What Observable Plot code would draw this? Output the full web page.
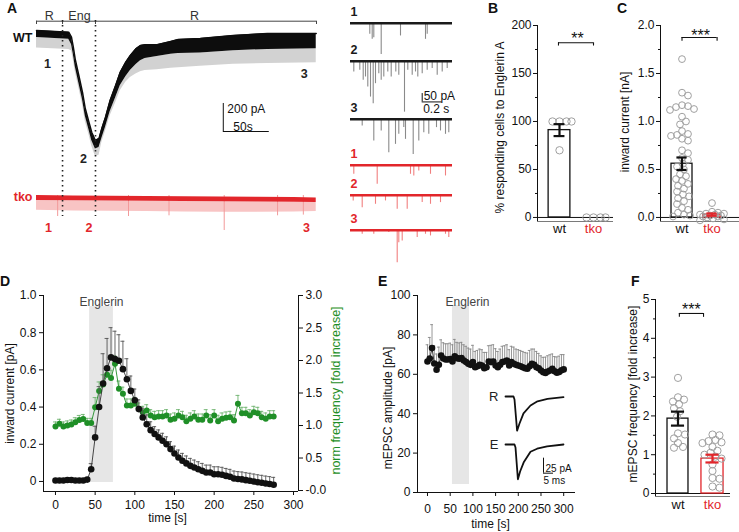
<!DOCTYPE html>
<html>
<head>
<meta charset="utf-8">
<script src="https://cdn.jsdelivr.net/npm/d3@7"></script>
<script src="https://cdn.jsdelivr.net/npm/@observablehq/plot@0.6"></script>
<style>
html,body{margin:0;padding:0;background:#fff;}
#fig{position:relative;width:739px;height:532px;overflow:hidden;background:#fff;font-family:"Liberation Sans",Arial,sans-serif;}
.cell{position:absolute;}
.cell svg{display:block;overflow:visible;max-width:none;}
.letter{position:absolute;font-weight:bold;font-size:14px;line-height:14px;color:#111;}
</style>
</head>
<body>
<div id="fig"></div>
<script>
// ======================= DATA =======================
// Panel A — whole-cell traces (time in s, current in pA relative to baseline)
const periodNames = ["R", "Eng", "R"];
const periodEdges = [0, 28.3, 64.1, 304.3];
const periodLabelT = [14, 46.7, 171.7];

const wtTime  = [0,35,38,40,42,46,50,53,57,60,64,68,71,75,80,86,91,97,102,108,113,118,131,146,154,178,214,251,304];
const wtTop   = [0,-12,-48,-119,-202,-321,-441,-557,-655,-726,-785,-771,-700,-619,-500,-393,-298,-226,-178,-131,-107,-102,-102,-78,-64,-57,-36,-21,-21];
const wtLow   = [-50,-62,-100,-170,-255,-375,-495,-610,-708,-785,-845,-835,-770,-690,-580,-480,-395,-330,-285,-245,-215,-200,-185,-170,-165,-160,-145,-135,-130];
const wtSpike = [-125,-135,-145,-210,-290,-410,-530,-650,-745,-825,-900,-890,-800,-720,-610,-515,-430,-370,-335,-310,-295,-285,-280,-270,-265,-255,-240,-235,-230];
const wtMarkT = [12, 51, 291];
const wtMarkI = [-236, -914, -307];

const tkoTime  = [0,40,80,120,160,200,240,280,304];
const tkoTop   = [0,-3,-5,-7,-9,-11,-13,-15,-17];
const tkoLow   = [-35,-37,-39,-41,-43,-45,-47,-49,-50];
const tkoSpike = [-105,-110,-112,-115,-118,-120,-120,-118,-115];
const tkoEventT = [23, 100, 144, 204, 262, 290];
const tkoEventA = [-150, -150, -145, -250, -145, -140];
const tkoMarkT = [13, 57, 293.5];
const tkoMarkI = [-233, -233, -233];

const scaleA = {t0: 203, t1: 253, i0: -721, i1: -521}; // 50 s, 200 pA

// Panel A right — example sweeps: [time s, event amplitude pA]
const sweepNames = ["1","2","3","1","2","3"];
const sweepGeno  = ["wt","wt","wt","tko","tko","tko"];
const sweepEvents = [
  [[0.193,66],[0.217,96],[0.233,86],[0.307,186],[0.5,76],[0.75,96],[0.767,66]],
  [[0.033,64],[0.093,54],[0.127,114],[0.15,94],[0.173,154],[0.2,214],[0.227,254],[0.25,134],[0.283,74],[0.307,114],[0.333,94],[0.373,64],[0.407,94],[0.453,64],[0.483,84],[0.54,304],[0.573,54],[0.617,84],[0.65,64],[0.673,94],[0.717,74],[0.767,54],[0.817,44],[0.867,84],[0.917,64],[0.967,44]],
  [[0.117,40],[0.233,130],[0.307,70],[0.383,200],[0.45,150],[0.483,90],[0.533,50],[0.55,120],[0.627,210],[0.683,130],[0.733,80],[0.783,90],[0.86,50],[0.9,70],[0.95,90],[0.983,80]],
  [[0.033,54],[0.267,114],[0.6,54],[0.633,64],[0.683,34],[0.8,54],[0.95,64]],
  [[0.027,34],[0.117,74],[0.25,54],[0.35,34],[0.467,84],[0.567,84],[0.717,44],[0.8,54],[0.9,44]],
  [[0.117,24],[0.233,24],[0.383,14],[0.467,194],[0.483,74],[0.517,64],[0.667,44],[0.75,24],[0.8,34],[0.95,24],[0.983,44]]
];
const sweepScale = {t0: 0.717, t1: 0.917, i0: -243, i1: -193}; // 0.2 s, 50 pA

// Panel B
const groups = ["wt", "tko"];
const bMean = [91, 0];
const bSem  = [6.2, 0];
const bWt   = [100, 100, 100, 100, 70];
const bTko  = [0, 0, 0, 0];

// Panel C
const cMean = [0.56, 0.03];
const cSem  = [0.065, 0.012];
const cWt   = [1.65,1.30,1.27,1.17,1.16,1.15,1.13,1.12,1.05,1.00,0.97,0.90,0.87,0.86,0.85,0.82,0.80,0.70,0.67,0.62,0.60,0.56,0.53,0.50,0.45,0.43,0.40,0.38,0.35,0.33,0.30,0.27,0.24,0.22,0.20,0.17,0.14,0.10,0.08,0.05,0.03,0.02,0.01];
const cTko  = [0.15,0.06,0.05,0.04,0.04,0.03,0.03,0.02,0.02,0.01,0.01,0.0,-0.01,-0.02,-0.03];

// Panel D
const englerinD = [43, 73];
const dTime = [0,5,10,15,20,25,30,35,40,45,50,55,60,65,70,75,80,85,90,95,100,105,110,115,120,125,130,135,140,145,150,155,160,165,170,175,180,185,190,195,200,205,210,215,220,225,230,235,240,245,250,255,260,265,270,275];
const dCurrent = [0.005,0.005,0.005,0.008,0.008,0.005,0.005,0.005,0.01,0.066,0.237,0.40,0.527,0.609,0.667,0.658,0.649,0.604,0.55,0.487,0.437,0.389,0.344,0.308,0.276,0.255,0.237,0.219,0.2,0.174,0.15,0.129,0.111,0.097,0.084,0.075,0.066,0.057,0.048,0.048,0.039,0.039,0.036,0.03,0.025,0.016,0.013,0.011,0.007,0.004,0.0,-0.004,-0.007,-0.011,-0.014,-0.018];
const dCurrentErr = [0.01,0.01,0.01,0.01,0.01,0.01,0.01,0.01,0.01,0.03,0.06,0.11,0.16,0.16,0.16,0.15,0.14,0.15,0.11,0.08,0.06,0.05,0.05,0.05,0.045,0.04,0.04,0.04,0.04,0.04,0.04,0.04,0.04,0.04,0.04,0.04,0.04,0.04,0.04,0.04,0.04,0.04,0.04,0.04,0.04,0.04,0.04,0.04,0.04,0.04,0.04,0.04,0.04,0.04,0.04,0.04];
const dFreq = [0.985,1.026,0.985,1.0,1.015,1.05,1.085,1.1,1.04,1.04,1.28,1.53,1.63,1.78,1.73,1.95,1.564,1.49,1.308,1.308,1.333,1.256,1.205,1.23,1.154,1.128,1.138,1.138,1.154,1.087,1.103,1.154,1.128,1.067,1.103,1.138,1.087,1.087,1.154,1.077,1.154,1.067,1.103,1.118,1.128,1.077,1.333,1.19,1.19,1.154,1.205,1.19,1.128,1.103,1.138,1.138];
const dFreqErr = [0.07,0.07,0.07,0.07,0.07,0.07,0.07,0.07,0.07,0.07,0.15,0.14,0.15,0.12,0.12,0.12,0.12,0.1,0.1,0.1,0.1,0.09,0.09,0.09,0.09,0.09,0.09,0.09,0.09,0.09,0.09,0.09,0.09,0.09,0.09,0.09,0.09,0.09,0.09,0.09,0.09,0.09,0.09,0.09,0.09,0.09,0.13,0.09,0.09,0.09,0.09,0.09,0.09,0.09,0.09,0.09];

// Panel E
const englerinE = [55, 92.6];
const eTime = [0,5,10,15,20,25,30,35,40,45,50,55,60,65,70,75,80,85,90,95,100,105,110,115,120,125,130,135,140,145,150,155,160,165,170,175,180,185,190,195,200,205,210,215,220,225,230,235,240,245,250,255,260,265,270,275,280,285,290,295,300];
const eAmp = [66.5,68,73.3,65.5,62.3,64.8,69.5,68,67.5,67.5,67.8,66.5,69.2,68.2,67.9,68.2,67,66.2,65.3,64.8,66.2,63.6,64.1,64.8,64.5,63.1,63.6,66.5,66.2,66.5,64.5,63.6,64.8,66.2,66.5,67,64.5,66.2,65.3,64.8,64.5,64.1,63.6,63.1,62.8,64.1,65.3,64.8,63.6,63.1,61.9,61.1,60.7,61.4,61.9,62.8,61.5,60.8,61.2,62,62.5];
const eAmpErr = [8.5,10.7,11.9,9,8,9,8,8,8,8,8,8.5,8.5,8,8,8,8,8,8,8,8.5,8,8,8,8,8,7.5,8,8.5,8.5,8.5,8,8,8,8,8,8,8,8.5,8,8,8,8,8,8,8,7.5,8,8,7.5,7.5,7.5,8,8,8,7.5,7.5,8,8,8,7.5];
// Average mEPSC waveforms (ms, pA)
const rTraceT = [0,4,4.5,5.8,7,9,12.5,16,21,29];
const rTraceI = [0,0,-5,-57,-45,-28,-15,-8,-4,-1];
const eTraceT = [0,4.5,5,6.2,7.3,9.2,12.5,15.8,20.8,29];
const eTraceI = [0,0,-5,-58,-45,-29,-12,-7,-3,0];
const insetScale = {t0: 19, t1: 24, i0: -47.8, i1: -22.8}; // 5 ms, 25 pA

// Panel F
const fMean = [1.93, 0.9];
const fSem  = [0.18, 0.1];
const fWt   = [2.98,2.48,2.42,2.37,2.30,2.20,2.12,1.98,1.55,1.52,1.42,1.30,1.20,1.18];
const fTko  = [1.52,1.50,1.38,1.35,1.32,1.30,1.20,1.10,1.05,1.00,0.95,0.90,0.75,0.58,0.40,0.38,0.18,0.15];

// ======================= RENDER =======================
const FONT = '"Liberation Sans", Arial, sans-serif';
const BLACK = "#111", RED = "#e2262b", GREEN = "#1f8f27", GREEN_L = "#6fb36f", PT = "#a0a0a0";
const fig = document.getElementById("fig");
function put(el, left, top) {
  const d = document.createElement("div");
  d.className = "cell";
  d.style.left = left + "px";
  d.style.top = top + "px";
  d.appendChild(el);
  fig.appendChild(d);
}
function P(o) {
  return Plot.plot({...o, style: {fontFamily: FONT, fontSize: "12px", background: "transparent", overflow: "visible", color: BLACK}});
}
function letter(t, x, baseline) {
  const d = document.createElement("div");
  d.className = "letter";
  d.textContent = t;
  d.style.left = x + "px";
  d.style.top = (baseline - 12) + "px";
  fig.appendChild(d);
}
// deterministic beeswarm offsets (px)
function dodge(values, pxPerUnit, minDist, maxPx) {
  const order = values.map((v, i) => i).sort((a, b) => values[b] - values[a]);
  const placed = [], out = new Array(values.length);
  for (const i of order) {
    const y = values[i] * pxPerUnit;
    let best = 0, bestOv = Infinity;
    for (let k = 0; k <= 2 * maxPx; k++) {
      const off = (k % 2 ? 1 : -1) * Math.ceil(k / 2);
      let ov = 0;
      for (const p of placed) {
        const dd = Math.hypot(p[0] - off, p[1] - y);
        if (dd < minDist) ov = Math.max(ov, minDist - dd);
      }
      if (ov === 0) { best = off; bestOv = 0; break; }
      if (ov < bestOv) { bestOv = ov; best = off; }
    }
    placed.push([best, y]);
    out[i] = best;
  }
  return out;
}

// ---------- Panel A: bracket ----------
put(P({
  width: 330, height: 16, marginLeft: 36, marginRight: 14, marginTop: 12.7, marginBottom: 0,
  x: {domain: [0, 304.3], axis: null}, y: {domain: [0, 1], axis: null},
  marks: [
    Plot.ruleY([1], {x1: periodEdges[0], x2: periodEdges[3], stroke: "#444"}),
    Plot.ruleX(periodEdges, {y1: 0, y2: 1, stroke: "#444"}),
    Plot.text(periodNames, {x: (d, i) => periodLabelT[i], y: () => 1, dy: -5, text: d => d, fontSize: 12.5, fill: "#333"})
  ]
}), 0, 8);

// ---------- Panel A: WT trace ----------
const wtRows = wtTime.map((t, i) => ({t, top: wtTop[i], low: wtLow[i], spike: wtSpike[i]}));
put(P({
  width: 330, height: 175, marginLeft: 36, marginRight: 14, marginTop: 5, marginBottom: 0,
  x: {domain: [0, 304.3], axis: null}, y: {domain: [-1035, 178.5], axis: null},
  marks: [
    Plot.areaY(wtRows, {x: "t", y1: "spike", y2: "low", fill: "#d2d2d2"}),
    Plot.areaY(wtRows, {x: "t", y1: "low", y2: "top", fill: "#0d0d0d"}),
    Plot.line(wtRows, {x: "t", y: "top", stroke: "#0d0d0d", strokeWidth: 1.5}),
    Plot.text(["WT"], {frameAnchor: "left", y: () => 0, dx: -4, dy: 7, textAnchor: "end", fontWeight: "bold", fontSize: 12.5}),
    Plot.text(wtMarkT, {x: d => d, y: (d, i) => wtMarkI[i], text: (d, i) => String(i + 1), fontWeight: "bold", fontSize: 12.5, fill: "#222"}),
    Plot.ruleX([scaleA.t0], {y1: scaleA.i0, y2: scaleA.i1, stroke: BLACK}),
    Plot.ruleY([scaleA.i0], {x1: scaleA.t0, x2: scaleA.t1, stroke: BLACK}),
    Plot.text(["200 pA"], {x: () => scaleA.t0, y: () => (scaleA.i0 + scaleA.i1) / 2, dx: 4, dy: -8, textAnchor: "start", fontSize: 12}),
    Plot.text(["50s"], {x: () => scaleA.t0, y: () => scaleA.i0, dx: 10, dy: -4, textAnchor: "start", fontSize: 12})
  ]
}), 0, 0);

// ---------- Panel A: tko trace ----------
const tkoRows = tkoTime.map((t, i) => ({t, top: tkoTop[i], low: tkoLow[i], spike: tkoSpike[i]}));
put(P({
  width: 330, height: 62, marginLeft: 36, marginRight: 14, marginTop: 0, marginBottom: 0,
  x: {domain: [0, 304.3], axis: null}, y: {domain: [-335.6, 107.1], axis: null},
  marks: [
    Plot.areaY(tkoRows, {x: "t", y1: "spike", y2: "low", fill: "#f8c4c4"}),
    Plot.ruleX(tkoEventT, {x: d => d, y1: 0, y2: (d, i) => tkoEventA[i], stroke: "#f29a9a"}),
    Plot.areaY(tkoRows, {x: "t", y1: "low", y2: "top", fill: RED}),
    Plot.text(["tko"], {frameAnchor: "left", y: () => 0, dx: -4, dy: 2, textAnchor: "end", fill: RED, fontWeight: "bold", fontSize: 12.5}),
    Plot.text(tkoMarkT, {x: d => d, y: (d, i) => tkoMarkI[i], text: (d, i) => String(i + 1), fill: RED, fontWeight: "bold", fontSize: 12.5})
  ]
}), 0, 180);

// ---------- Panel A: dotted markers of Englerin period ----------
put(P({
  width: 330, height: 196, marginLeft: 36, marginRight: 14, marginTop: 0, marginBottom: 0,
  x: {domain: [0, 304.3], axis: null},
  marks: [Plot.ruleX(periodEdges.slice(1, 3), {stroke: "#222", strokeWidth: 1.6, strokeDasharray: "1.6,3.4"})]
}), 0, 20);

// ---------- Panel A: sweeps ----------
const sweepBase = [22.3, 61, 118.3, 164.3, 194.3, 229.3];
sweepEvents.forEach((ev, k) => {
  const wt = sweepGeno[k] === "wt";
  const main = wt ? "#1a1a1a" : RED, light = wt ? "#8a8a8a" : "#f07f7f";
  const marks = [
    Plot.ruleX(ev, {x: d => d[0], y1: 0, y2: d => -d[1], stroke: light, strokeWidth: 1.1}),
    Plot.ruleY([0], {x1: 0, x2: 1.02, stroke: main, strokeWidth: 2.6}),
    Plot.text([sweepNames[k]], {frameAnchor: "left", y: () => 0, dx: 0, dy: -11, textAnchor: "start", fill: main, fontWeight: "bold", fontSize: 12.5})
  ];
  if (k === 1) {
    marks.push(
      Plot.ruleX([sweepScale.t0], {y1: sweepScale.i0, y2: sweepScale.i1, stroke: BLACK}),
      Plot.ruleY([sweepScale.i0], {x1: sweepScale.t0, x2: sweepScale.t1, stroke: BLACK}),
      Plot.text(["50 pA"], {x: () => sweepScale.t0, y: () => sweepScale.i1, dx: 1.5, dy: 3, textAnchor: "start", fontSize: 12}),
      Plot.text(["0.2 s"], {x: () => sweepScale.t0, y: () => sweepScale.i0, dx: 1, dy: 7.5, textAnchor: "start", fontSize: 12})
    );
  }
  put(P({
    width: 112, height: 72, marginLeft: 5, marginRight: 5, marginTop: 0, marginBottom: 0,
    x: {domain: [0, 1.02], axis: null}, y: {domain: [-330, 100], axis: null}, marks
  }), 345, sweepBase[k] - 16.75);
});

// ---------- Bar panels (B, C, F) ----------
function barPanel(o) {
  const pxX = (o.W - o.mL - o.mR) / (o.xd[1] - o.xd[0]);
  const pxY = (o.H - o.mT - o.mB) / (o.yd[1] - o.yd[0]);
  const dots = [];
  o.pts.forEach((vals, g) => {
    const off = dodge(vals, pxY, 2 * o.r * 0.85, o.spread[g]);
    vals.forEach((v, i) => dots.push({x: g + off[i] / pxX, y: v}));
  });
  const colors = [BLACK, RED];
  const marks = [
    Plot.ruleY([o.yd[0]], {stroke: "#7a7a7a"}),
    Plot.ruleY([0], {stroke: BLACK}),
    Plot.ruleX([o.xd[0]], {stroke: BLACK}),
    Plot.axisY(o.ticks, {tickSize: 4, tickPadding: 2, tickFormat: o.fmt, label: null, fontSize: 12}),
    Plot.axisY(o.minor, {tickSize: 2, tickFormat: () => "", label: null}),
  ];
  [0, 1].forEach(g => marks.push(Plot.rect([g], {x1: d => d - o.half[g], x2: d => d + o.half[g], y1: 0, y2: () => o.mean[g], fill: "none", stroke: colors[g], strokeWidth: 1.3})));
  marks.push(Plot.dot(dots, {x: "x", y: "y", r: o.r, stroke: PT, strokeWidth: 1, fill: "none"}));
  [0, 1].forEach(g => {
    if (o.sem[g] > 0) {
      marks.push(
        Plot.ruleX([g], {y1: o.mean[g] - o.sem[g], y2: o.mean[g] + o.sem[g], stroke: colors[g], strokeWidth: 2.2}),
        Plot.ruleY([o.mean[g] - o.sem[g], o.mean[g] + o.sem[g]], {x1: g - o.cap, x2: g + o.cap, stroke: colors[g], strokeWidth: 2.2})
      );
    }
  });
  const b = o.bracket;
  marks.push(
    Plot.ruleY([b.y], {x1: b.x1, x2: b.x2, stroke: BLACK, strokeWidth: 1.1}),
    Plot.ruleX([b.x1, b.x2], {y1: b.yLow, y2: b.y, stroke: BLACK, strokeWidth: 1.1}),
    Plot.text([b.stars], {x: () => b.sx, y: () => b.y, dy: b.sdy, fontSize: 16, lineAnchor: "middle"}),
    Plot.text([groups[0]], {x: () => 0, frameAnchor: "bottom", dy: o.labelDy, fill: BLACK, fontSize: 13}),
    Plot.text([groups[1]], {x: () => 1, frameAnchor: "bottom", dy: o.labelDy, fill: RED, fontSize: 13}),
    Plot.text([o.ylabel], {frameAnchor: "left", dx: o.ylDx, dy: o.ylDy, rotate: -90, textAnchor: "middle", lineAnchor: "middle", fontSize: 12})
  );
  put(P({
    width: o.W, height: o.H, marginLeft: o.mL, marginRight: o.mR, marginTop: o.mT, marginBottom: o.mB,
    x: {domain: o.xd, axis: null}, y: {domain: o.yd}, marks
  }), o.left, o.top);
}

barPanel({
  left: 480, top: 0, W: 140, H: 250, mL: 57, mR: 7, mT: 25, mB: 29,
  xd: [-0.647, 1.588], yd: [-4.2, 200],
  ticks: [0, 50, 100, 150, 200], minor: [25, 75, 125, 175], fmt: d => String(d),
  mean: bMean, sem: bSem, half: [0.32, 0.32], cap: 0.16,
  pts: [bWt, bTko], r: 3.7, spread: [12, 12],
  bracket: {y: 182, yLow: 178.6, x1: -0.03, x2: 1.0, stars: "**", sx: 0.53, sdy: -4.4},
  labelDy: 11, ylabel: "% responding cells to Englerin A", ylDx: -37, ylDy: 4
});

barPanel({
  left: 600, top: 0, W: 139, H: 250, mL: 60, mR: 0, mT: 25, mB: 29,
  xd: [-0.717, 1.917], yd: [-0.042, 2],
  ticks: [0, 0.5, 1, 1.5, 2], minor: [0.25, 0.75, 1.25, 1.75], fmt: d3.format(".1f"),
  mean: cMean, sem: cSem, half: [0.35, 0.29], cap: 0.17,
  pts: [cWt, cTko], r: 3.4, spread: [17, 12],
  bracket: {y: 1.875, yLow: 1.836, x1: 0.0, x2: 1.17, stars: "***", sx: 0.62, sdy: -1.7},
  labelDy: 11, ylabel: "inward current [nA]", ylDx: -35, ylDy: -1.5
});

barPanel({
  left: 600, top: 280, W: 139, H: 250, mL: 55, mR: 9, mT: 19, mB: 34,
  xd: [-0.652, 1.522], yd: [-0.077, 5],
  ticks: [0, 1, 2, 3, 4, 5], minor: [0.5, 1.5, 2.5, 3.5, 4.5], fmt: d => String(d),
  mean: fMean, sem: fSem, half: [0.304, 0.32], cap: 0.19,
  pts: [fWt, fTko], r: 3.6, spread: [12, 14],
  bracket: {y: 4.64, yLow: 4.54, x1: 0.04, x2: 0.74, stars: "***", sx: 0.39, sdy: -3.7},
  labelDy: 12, ylabel: "mEPSC frequency [fold increase]", ylDx: -22, ylDy: -4
});

// ---------- Panel D ----------
const yDomD = [-0.054, 1];
const rightDom = [-0.015, 3.0];
const toL = v => yDomD[0] + (v - rightDom[0]) / (rightDom[1] - rightDom[0]) * (yDomD[1] - yDomD[0]);
const fromL = d => rightDom[0] + (d - yDomD[0]) / (yDomD[1] - yDomD[0]) * (rightDom[1] - rightDom[0]);
const xDomD = [-15.1, 306.3];
const dRows = dTime.map((t, i) => ({t, b: dCurrent[i], bt: dCurrent[i] + dCurrentErr[i], g: toL(dFreq[i]), gt: toL(dFreq[i] + dFreqErr[i])}));
put(P({
  width: 345, height: 250, marginLeft: 43, marginRight: 47, marginTop: 15, marginBottom: 39,
  x: {domain: xDomD}, y: {domain: yDomD},
  marks: [
    Plot.rect([englerinD], {x1: d => d[0], x2: d => d[1], fill: "#e6e6e6", insetTop: 11, insetBottom: 9}),
    Plot.text(["Englerin"], {x: () => (englerinD[0] + englerinD[1]) / 2, frameAnchor: "top", dy: 2, fontSize: 12, fill: "#444"}),
    Plot.ruleX([xDomD[0]], {stroke: BLACK}),
    Plot.ruleX([xDomD[1]], {stroke: BLACK}),
    Plot.ruleY([yDomD[0]], {stroke: BLACK}),
    Plot.axisY([0, 0.2, 0.4, 0.6, 0.8, 1], {tickSize: 4, tickPadding: 3, tickFormat: d => d === 0 ? "0" : d.toFixed(1), label: null, fontSize: 12}),
    Plot.axisY([0, 0.5, 1, 1.5, 2, 2.5, 3].map(toL), {anchor: "right", tickSize: 4, tickPadding: 3, tickFormat: d => fromL(d).toFixed(1), label: null, fontSize: 12}),
    Plot.axisX([0, 50, 100, 150, 200, 250, 300], {tickSize: 4, tickPadding: 5, label: null, fontSize: 12}),
    // green: norm frequency (right axis)
    Plot.ruleX(dRows, {x: "t", y1: "g", y2: "gt", stroke: GREEN_L, strokeWidth: 0.9}),
    Plot.ruleY(dRows, {y: "gt", x1: d => d.t - 2.5, x2: d => d.t + 2.5, stroke: GREEN_L, strokeWidth: 0.9}),
    Plot.line(dRows, {x: "t", y: "g", stroke: GREEN, strokeWidth: 0.9}),
    Plot.dot(dRows, {x: "t", y: "g", r: 3, fill: GREEN}),
    // black: inward current (left axis)
    Plot.ruleX(dRows, {x: "t", y1: "b", y2: "bt", stroke: "#555", strokeWidth: 0.9}),
    Plot.ruleY(dRows, {y: "bt", x1: d => d.t - 2.5, x2: d => d.t + 2.5, stroke: "#555", strokeWidth: 0.9}),
    Plot.line(dRows, {x: "t", y: "b", stroke: "#333", strokeWidth: 0.9}),
    Plot.dot(dRows, {x: "t", y: "b", r: 3.3, fill: BLACK}),
    Plot.text(["time [s]"], {frameAnchor: "bottom", dx: -3.5, dy: 30, fontSize: 12}),
    Plot.text(["inward current [pA]"], {frameAnchor: "left", dx: -33, rotate: -90, textAnchor: "middle", lineAnchor: "middle", fontSize: 12}),
    Plot.text(["norm frequency [fold increase]"], {frameAnchor: "right", dx: 37, dy: -3, rotate: -90, textAnchor: "middle", lineAnchor: "middle", fontSize: 12.5, fill: GREEN})
  ]
}), 0, 280);

// ---------- Panel E ----------
const xDomE = [-22, 326];
const eRows = eTime.map((t, i) => ({t, a: eAmp[i], at: eAmp[i] + eAmpErr[i]}));
put(P({
  width: 240, height: 250, marginLeft: 72, marginRight: 10, marginTop: 15, marginBottom: 38,
  x: {domain: xDomE}, y: {domain: [0, 100]},
  marks: [
    Plot.rect([englerinE], {x1: d => d[0], x2: d => d[1], fill: "#e6e6e6", insetTop: 10, insetBottom: 8}),
    Plot.text(["Englerin"], {x: () => (englerinE[0] + englerinE[1]) / 2, frameAnchor: "top", dx: 6.5, dy: 2, fontSize: 12, fill: "#444"}),
    Plot.ruleX([xDomE[0]], {stroke: BLACK}),
    Plot.ruleY([0], {stroke: BLACK}),
    Plot.axisY([0, 20, 40, 60, 80, 100], {tickSize: 4, tickPadding: 3, label: null, fontSize: 12}),
    Plot.axisX([0, 50, 100, 150, 200, 250, 300], {tickSize: 4, tickPadding: 8, label: null, fontSize: 12}),
    Plot.ruleX(eRows, {x: "t", y1: "a", y2: "at", stroke: "#8a8a8a", strokeWidth: 0.9}),
    Plot.ruleY(eRows, {y: "at", x1: d => d.t - 3, x2: d => d.t + 3, stroke: "#8a8a8a", strokeWidth: 0.9}),
    Plot.line(eRows, {x: "t", y: "a", stroke: "#222", strokeWidth: 0.9}),
    Plot.dot(eRows, {x: "t", y: "a", r: 3.3, fill: BLACK}),
    Plot.text(["time [s]"], {frameAnchor: "bottom", dx: -6, dy: 35, fontSize: 12}),
    Plot.text(["mEPSC amplitude [pA]"], {frameAnchor: "left", dx: -29, dy: 14, rotate: -90, textAnchor: "middle", lineAnchor: "middle", fontSize: 12})
  ]
}), 345, 280);

// E insets: average mEPSCs
function insetPlot(tArr, iArr, name, withScale) {
  const rows = tArr.map((t, i) => ({t, i: iArr[i]}));
  const marks = [
    Plot.line(rows, {x: "t", y: "i", stroke: BLACK, strokeWidth: 1.8}),
    Plot.text([name], {frameAnchor: "left", y: () => 0, dx: -7, textAnchor: "end", fontSize: 13, fill: "#222"})
  ];
  if (withScale) {
    marks.push(
      Plot.ruleX([insetScale.t0], {y1: insetScale.i0, y2: insetScale.i1, stroke: BLACK}),
      Plot.ruleY([insetScale.i0], {x1: insetScale.t0, x2: insetScale.t1, stroke: BLACK}),
      Plot.text(["25 pA"], {x: () => insetScale.t0, y: () => (insetScale.i0 + insetScale.i1) / 2, dx: 2, dy: 3, textAnchor: "start", fontSize: 10}),
      Plot.text(["5 ms"], {x: () => insetScale.t0, y: () => insetScale.i0, dx: 0, dy: 8, textAnchor: "start", fontSize: 10})
    );
  }
  return P({
    width: 75, height: 48, marginLeft: 15, marginRight: 0, marginTop: 0, marginBottom: 0,
    x: {domain: [0, 30], axis: null}, y: {domain: [-70, 10], axis: null}, marks
  });
}
put(insetPlot(rTraceT, rTraceI, "R", false), 490, 390);
put(insetPlot(eTraceT, eTraceI, "E", true), 490, 438.3);

// ---------- Panel letters ----------
letter("A", 7, 12.7);
letter("B", 488, 12.7);
letter("C", 617, 12.7);
letter("D", 0, 286);
letter("E", 378, 286);
letter("F", 631, 286);
</script>
</body>
</html>
